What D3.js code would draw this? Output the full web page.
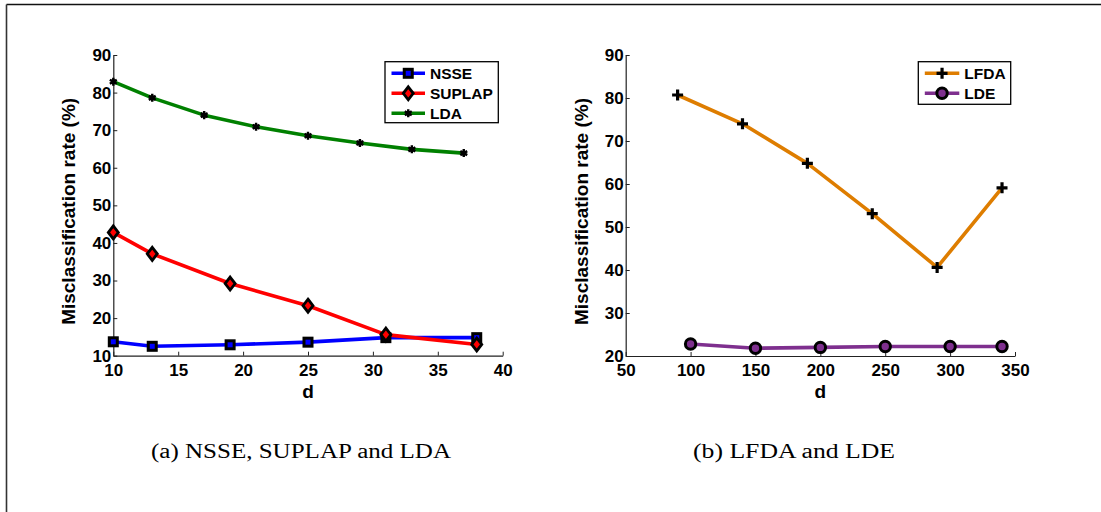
<!DOCTYPE html>
<html>
<head>
<meta charset="utf-8">
<script src="https://cdn.jsdelivr.net/npm/d3@7"></script>
<style>
  html, body { margin: 0; padding: 0; background: #fff; }
  svg { display: block; }
  .tick text { font-family: "Liberation Sans", Arial, sans-serif; font-weight: bold; font-size: 17px; fill: #000; }
  .lbl { font-family: "Liberation Sans", Arial, sans-serif; font-weight: bold; fill: #000; }
  .cap { font-family: "Liberation Serif", "Times New Roman", serif; fill: #000; }
</style>
</head>
<body>
<svg id="fig" width="1101" height="512"></svg>
<script>
// ---- data: panel (a) ----
const nsseD = [10, 13, 19, 25, 31, 38];
const nsseRate = [13.7, 12.5, 12.9, 13.6, 14.8, 14.8];
const suplapD = [10, 13, 19, 25, 31, 38];
const suplapRate = [42.8, 37.1, 29.2, 23.3, 15.6, 13.0];
const ldaD = [10, 13, 17, 21, 25, 29, 33, 37];
const ldaRate = [82.9, 78.6, 74.0, 70.9, 68.5, 66.6, 64.9, 63.9];

// ---- data: panel (b) ----
const lfdaD = [90, 140, 190, 240, 290, 340];
const lfdaRate = [80.7, 74.0, 64.8, 53.1, 40.6, 59.1];
const ldeD = [100, 150, 200, 250, 300, 340];
const ldeRate = [22.8, 21.8, 22.0, 22.2, 22.2, 22.2];

// ---- ticks & labels ----
const xTicksA = [10, 15, 20, 25, 30, 35, 40];
const yTicksA = [10, 20, 30, 40, 50, 60, 70, 80, 90];
const xTicksB = [50, 100, 150, 200, 250, 300, 350];
const yTicksB = [20, 30, 40, 50, 60, 70, 80, 90];
const yLabel = "Misclassification rate (%)";
const xLabel = "d";
const captionA = "(a)  NSSE, SUPLAP and LDA";
const captionB = "(b)  LFDA and LDE";

const svg = d3.select("#fig");

// page frame
svg.append("line").attr("x1", 6.5).attr("x2", 1101).attr("y1", 4.5).attr("y2", 4.5)
  .attr("stroke", "#111").attr("stroke-width", 1.6);
svg.append("line").attr("x1", 6.5).attr("x2", 6.5).attr("y1", 4.5).attr("y2", 512)
  .attr("stroke", "#333").attr("stroke-width", 1.6);

// marker painters
function markSquare(g, x, y, fill) {
  g.append("rect").attr("x", x - 4).attr("y", y - 4).attr("width", 8).attr("height", 8)
    .attr("fill", fill).attr("stroke", "#000").attr("stroke-width", 3);
}
function markDiamond(g, x, y, fill) {
  g.append("path").attr("d", `M${x},${y - 6.5}L${x + 5},${y}L${x},${y + 6.5}L${x - 5},${y}Z`)
    .attr("fill", fill).attr("stroke", "#000").attr("stroke-width", 2.8);
}
function markStar(g, x, y) {
  g.append("path").attr("transform", `translate(${x},${y})`)
    .attr("d", d3.symbol(d3.symbolAsterisk, 45)())
    .attr("fill", "none").attr("stroke", "#000").attr("stroke-width", 2.4);
  g.append("circle").attr("cx", x).attr("cy", y).attr("r", 2.6).attr("fill", "#000");
}
function markPlus(g, x, y) {
  g.append("path").attr("d", `M${x - 5.5},${y}H${x + 5.5}M${x},${y - 5.5}V${y + 5.5}`)
    .attr("stroke", "#000").attr("stroke-width", 3.2).attr("fill", "none");
}
function markCircle(g, x, y, fill) {
  g.append("circle").attr("cx", x).attr("cy", y).attr("r", 5.2)
    .attr("fill", fill).attr("stroke", "#000").attr("stroke-width", 3);
}

function panel(cfg) {
  const x = d3.scaleLinear().domain(cfg.xDomain).range([cfg.left, cfg.right]);
  const y = d3.scaleLinear().domain(cfg.yDomain).range([cfg.bottom, cfg.top]);
  const g = svg.append("g");

  // axes (ticks pointing inward)
  const ax = g.append("g").attr("transform", `translate(0,${cfg.bottom})`)
    .call(d3.axisBottom(x).tickValues(cfg.xTicks).tickSize(-4).tickPadding(8).tickSizeOuter(0));
  ax.selectAll(".tick text").attr("dy", "0.71em");
  const ay = g.append("g").attr("transform", `translate(${cfg.left},0)`)
    .call(d3.axisLeft(y).tickValues(cfg.yTicks).tickSize(-4).tickPadding(2).tickSizeOuter(0));
  [ax, ay].forEach(a => {
    a.select(".domain").attr("stroke", "#222").attr("stroke-width", 1.2);
    a.selectAll(".tick line").attr("stroke", "#222").attr("stroke-width", 1);
  });

  // axis titles
  g.append("text").attr("class", "lbl").attr("x", (cfg.left + cfg.right) / 2).attr("y", cfg.bottom + 42)
    .attr("text-anchor", "middle").attr("font-size", 19).text(xLabel);
  g.append("text").attr("class", "lbl")
    .attr("transform", `translate(${cfg.left - 38},${(cfg.top + cfg.bottom) / 2 + 6}) rotate(-90)`)
    .attr("text-anchor", "middle").attr("font-size", 19).text(yLabel);

  // series: straight segments between measured points
  const line = d3.line().x(d => x(d[0])).y(d => y(d[1]));
  cfg.series.forEach(s => {
    const pts = s.xs.map((v, i) => [v, s.ys[i]]);
    g.append("path").datum(pts).attr("d", line).attr("fill", "none")
      .attr("stroke", s.color).attr("stroke-width", 3.6).attr("stroke-linejoin", "round");
  });
  cfg.series.forEach(s => {
    s.xs.forEach((v, i) => s.mark(g, x(v), y(s.ys[i]), s.color));
  });

  // legend
  const lg = g.append("g");
  lg.append("rect").attr("x", cfg.legend.x).attr("y", cfg.legend.y)
    .attr("width", cfg.legend.w).attr("height", cfg.legend.h)
    .attr("fill", "#fff").attr("stroke", "#000").attr("stroke-width", 1.3);
  cfg.series.forEach((s, i) => {
    const ry = cfg.legend.y + 11.6 + i * 20;
    const lx0 = cfg.legend.x + 6.5, lx1 = lx0 + cfg.legend.lineLen;
    lg.append("line").attr("x1", lx0).attr("x2", lx1).attr("y1", ry).attr("y2", ry)
      .attr("stroke", s.color).attr("stroke-width", 3.6);
    s.mark(lg, (lx0 + lx1) / 2, ry, s.color);
    lg.append("text").attr("class", "lbl").attr("x", lx1 + 5).attr("y", ry + 5.5)
      .attr("font-size", 15.5).text(s.name);
  });

  // caption
  g.append("text").attr("class", "cap").attr("x", cfg.capX).attr("y", 458)
    .attr("text-anchor", "middle").attr("font-size", 20)
    .attr("textLength", cfg.capW).attr("lengthAdjust", "spacingAndGlyphs").text(cfg.caption);
}

panel({
  xDomain: [10, 40], yDomain: [10, 90],
  left: 113.3, right: 502.7, top: 55, bottom: 355.7,
  xTicks: xTicksA, yTicks: yTicksA,
  series: [
    { name: "NSSE", xs: nsseD, ys: nsseRate, color: "#0000ff", mark: markSquare },
    { name: "SUPLAP", xs: suplapD, ys: suplapRate, color: "#ff0000", mark: markDiamond },
    { name: "LDA", xs: ldaD, ys: ldaRate, color: "#008000", mark: (g, x, y) => markStar(g, x, y) }
  ],
  legend: { x: 385, y: 61.7, w: 113.3, h: 61, lineLen: 33.5 },
  caption: captionA, capX: 301, capW: 300
});

panel({
  xDomain: [50, 350], yDomain: [20, 90],
  left: 625.7, right: 1015, top: 55, bottom: 356,
  xTicks: xTicksB, yTicks: yTicksB,
  series: [
    { name: "LFDA", xs: lfdaD, ys: lfdaRate, color: "#de7d00", mark: (g, x, y) => markPlus(g, x, y) },
    { name: "LDE", xs: ldeD, ys: ldeRate, color: "#7e2f8e", mark: markCircle }
  ],
  legend: { x: 918.3, y: 61.7, w: 92.4, h: 42.6, lineLen: 34.5 },
  caption: captionB, capX: 794, capW: 202
});
</script>
</body>
</html>
